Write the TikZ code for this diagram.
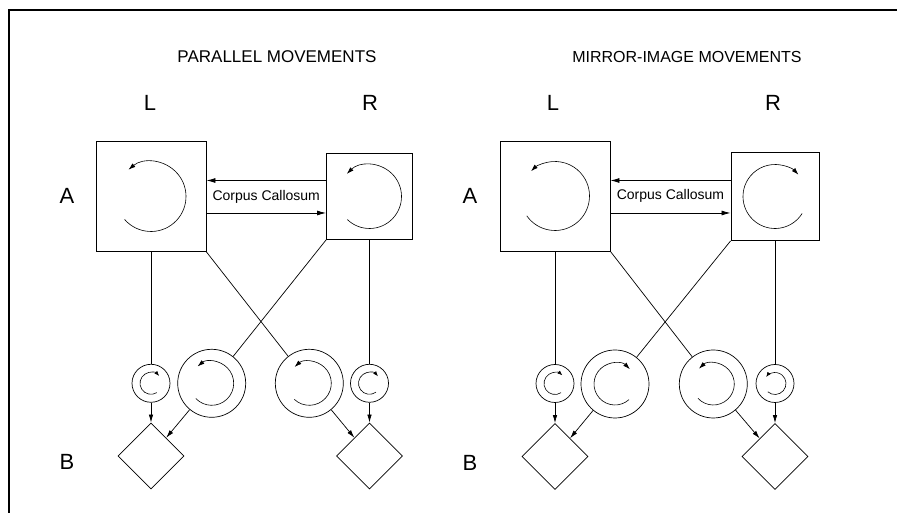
\documentclass[tikz,border=0pt]{standalone}
\usepackage{fontspec}
\setmainfont{Liberation Sans}
\usetikzlibrary{shapes.geometric,arrows.meta,calc}

% rotation arrow drawn around the centre of a node:
% #1 style, #2 node, #3 start angle, #4 radius, #5 end angle
\newcommand\whirl[5][spin]{%
  \draw[#1] ([shift={(#3:#4)}]#2.center) arc[start angle=#3, end angle=#5, radius=#4];}

\begin{document}
\begin{tikzpicture}[x=1pt,y=1pt,
  sqbox/.style={draw,line width=0.9pt,inner sep=0pt,minimum size=#1},
  ringc/.style={draw,circle,line width=0.7pt,inner sep=0pt,minimum size=#1},
  handd/.style={draw,diamond,aspect=1,line width=0.8pt,inner sep=0pt,minimum size=66pt},
  linkl/.style={line width=0.7pt},
  feed/.style={line width=0.7pt,-{Latex[length=8pt,width=4.5pt]}},
  cc/.style={line width=0.8pt,-{Latex[length=9pt,width=5pt]}},
  spin/.style={line width=0.6pt,-{Latex[length=7pt,width=4.5pt]}},
  spinsmall/.style={line width=0.6pt,-{Latex[length=5pt,width=3.8pt]}},
  mvtitle/.style={font=\fontsize{16}{16}\selectfont},
  limbtag/.style={font=\fontsize{22}{22}\selectfont},
  cctext/.style={font=\fontsize{14}{14}\selectfont}
]
\fill[white] (0,0) rectangle (897,513);
\useasboundingbox (0,0) rectangle (897,513);

% frame: top and left rules
\draw[line width=1.2pt] (897,503) -- (9,503) -- (9,0);

% ---------------- parallel movements ----------------
\node[mvtitle,font=\fontsize{17}{17}\selectfont] (ptitle) at (277,456) {PARALLEL MOVEMENTS};
\node[limbtag] (pL) at (150,410) {L};
\node[limbtag] (pR) at (370,410) {R};
\node[limbtag] (pA) at (67,317) {A};
\node[limbtag] (pB) at (67,51) {B};

\node[sqbox=110pt] (pLA) at (151,316.5) {};
\node[sqbox=86pt]  (pRA) at (369.5,316.5) {};
\node[cctext] (pcc) at ($(pLA.east)!0.5!(pRA.west)$) {Corpus Callosum};
\draw[cc] ([yshift=16pt]pRA.west) -- ([yshift=16pt]pLA.east);
\draw[cc] ([yshift=-16.5pt]pLA.east) -- ([yshift=-16.5pt]pRA.west);

\node[ringc=38pt] (pc1) at (151,129.7) {};
\node[ringc=68pt] (pc2) at (211.7,129.7) {};
\node[ringc=68pt] (pc3) at (309.3,129.7) {};
\node[ringc=38pt] (pc4) at (369.5,129.7) {};
\node[handd] (pd1) at (151,57) {};
\node[handd] (pd2) at (369.5,57) {};

\draw[linkl] (pLA.south) -- (pc1);
\draw[linkl] (pRA.south) -- (pc4);
\draw[linkl] (pLA.south east) -- (pc3);
\draw[linkl] (pRA.south west) -- (pc2);
\draw[feed] (pc1) -- (pd1);
\draw[feed] (pc2) -- (pd1);
\draw[feed] (pc3) -- (pd2);
\draw[feed] (pc4) -- (pd2);

\whirl{pLA}{-139}{35pt}{130}
\whirl{pRA}{-134}{32pt}{135}
\whirl[spinsmall]{pc1}{-58}{11pt}{-318}
\whirl{pc2}{-136}{22pt}{130}
\whirl{pc3}{-133}{22pt}{132}
\whirl[spinsmall]{pc4}{-54}{11pt}{-320}

% ---------------- mirror-image movements ----------------
\node[mvtitle] (mtitle) at (687,456) {MIRROR-IMAGE MOVEMENTS};
\node[limbtag] (mL) at (553,410) {L};
\node[limbtag] (mR) at (773,410) {R};
\node[limbtag] (mA) at (470,317) {A};
\node[limbtag] (mB) at (470,50) {B};

\node[sqbox=110pt] (mLA) at (555,317) {};
\node[sqbox=88pt]  (mRA) at (775,316.5) {};
\node[cctext] (mcc) at ($(mLA.east)!0.5!(mRA.west)$) {Corpus Callosum};
\draw[cc] ([yshift=16pt]mRA.west) -- ([yshift=15.5pt]mLA.east);
\draw[cc] ([yshift=-17pt]mLA.east) -- ([yshift=-16.5pt]mRA.west);

\node[ringc=38pt] (mc1) at (555,129.5) {};
\node[ringc=68pt] (mc2) at (615,129) {};
\node[ringc=68pt] (mc3) at (713.3,129) {};
\node[ringc=38pt] (mc4) at (775,129.5) {};
\node[handd] (md1) at (555,56.5) {};
\node[handd] (md2) at (775,56.5) {};

\draw[linkl] (mLA.south) -- (mc1);
\draw[linkl] (mRA.south) -- (mc4);
\draw[linkl] (mLA.south east) -- (mc3);
\draw[linkl] (mRA.south west) -- (mc2);
\draw[feed] (mc1) -- (md1);
\draw[feed] (mc2) -- (md1);
\draw[feed] (mc3) -- (md2);
\draw[feed] (mc4) -- (md2);

\whirl{mLA}{-145}{34.5pt}{134}
\whirl{mRA}{-32}{32pt}{-317}
\whirl[spinsmall]{mc1}{-57}{11pt}{-312}
\whirl{mc2}{-48}{21pt}{-315}
\whirl{mc3}{-137}{21pt}{133}
\whirl[spinsmall]{mc4}{-131}{11pt}{144}
\end{tikzpicture}
\end{document}
